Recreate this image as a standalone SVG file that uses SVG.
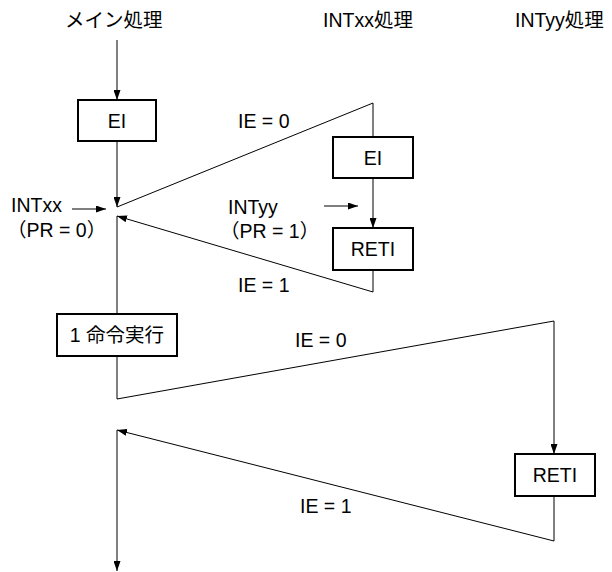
<svg xmlns="http://www.w3.org/2000/svg" width="612" height="572" viewBox="0 0 612 572">
<defs>
<style>
text{font-family:"Liberation Sans","Noto Sans CJK JP",sans-serif;font-size:19.5px;fill:#000}
.c{text-anchor:middle}
.box{fill:#fff;stroke:#000;stroke-width:2}
.ln{fill:none;stroke:#000;stroke-width:1}
</style>
<marker id="ah" markerUnits="userSpaceOnUse" markerWidth="10" markerHeight="7" refX="10" refY="3.5" orient="auto">
<path d="M0,0 L10,3.5 L0,7 z" fill="#000"/>
</marker>
</defs>
<rect width="612" height="572" fill="#fff"/>
<g id="headers">
<text x="65" y="27">メイン処理</text>
<text x="323" y="27">INTxx処理</text>
<text x="515" y="27">INTyy処理</text>
</g>
<g id="connectors">
<line class="ln" x1="117" y1="40" x2="117" y2="100" marker-end="url(#ah)"/>
<line class="ln" x1="117" y1="141" x2="117" y2="207" marker-end="url(#ah)"/>
<polyline class="ln" points="117,207 373,103 373,137"/>
<line class="ln" x1="373" y1="178" x2="373" y2="228" marker-end="url(#ah)"/>
<polyline class="ln" points="373,270 373,292 117,216" marker-end="url(#ah)"/>
<line class="ln" x1="117" y1="216" x2="117" y2="314"/>
<polyline class="ln" points="117,356 117,399 554,321 554,454" marker-end="url(#ah)"/>
<polyline class="ln" points="554,496 554,541 117,430" marker-end="url(#ah)"/>
<line class="ln" x1="117" y1="430" x2="117" y2="571" marker-end="url(#ah)"/>
<line class="ln" x1="72" y1="209" x2="106" y2="209" marker-end="url(#ah)"/>
<line class="ln" x1="324" y1="206" x2="358" y2="206" marker-end="url(#ah)"/>
</g>
<g id="labels">
<text x="11" y="212">INTxx</text>
<text x="7" y="237">（PR = 0）</text>
<text x="228" y="214">INTyy</text>
<text x="220" y="238">（PR = 1）</text>
<text x="238" y="128">IE = 0</text>
<text x="238" y="292">IE = 1</text>
<text x="295" y="347">IE = 0</text>
<text x="300" y="513">IE = 1</text>
</g>
<g id="main-ei">
<rect class="box" x="78" y="100" width="78" height="41"/>
<text class="c" x="117" y="128">EI</text>
</g>
<g id="intxx-ei">
<rect class="box" x="333" y="137" width="80" height="41"/>
<text class="c" x="373" y="165">EI</text>
</g>
<g id="intxx-reti">
<rect class="box" x="333" y="228" width="80" height="42"/>
<text class="c" x="373" y="256">RETI</text>
</g>
<g id="exec1">
<rect class="box" x="57" y="314" width="120" height="42"/>
<text class="c" x="117" y="342">1 命令実行</text>
</g>
<g id="intyy-reti">
<rect class="box" x="515" y="454" width="80" height="42"/>
<text class="c" x="555" y="482">RETI</text>
</g>
</svg>
